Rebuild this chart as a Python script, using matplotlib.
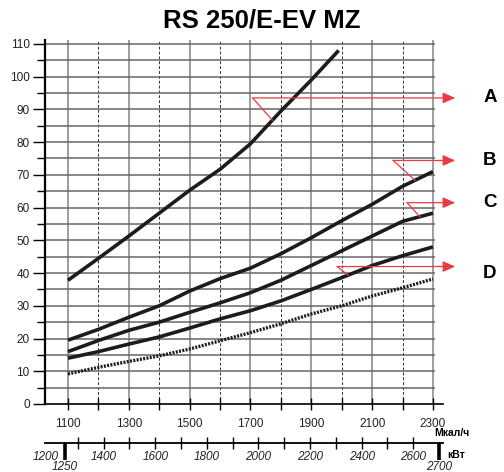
import numpy as np
import matplotlib
matplotlib.use("Agg")
import matplotlib.pyplot as plt
from matplotlib.transforms import blended_transform_factory

plt.rcParams['font.family'] = ['Liberation Sans', 'DejaVu Sans']

title = "RS 250/E-EV MZ"
mcal = [1100, 1200, 1300, 1400, 1500, 1600, 1700, 1800, 1900, 2000, 2100, 2200, 2300]
curve_a_x = [1100, 1200, 1300, 1400, 1500, 1600, 1700, 1800, 1900, 1990]
curve_a = [37.8, 44.5, 51.3, 58.3, 65.3, 71.7, 79.5, 89.5, 99, 108]
curve_b = [19.5, 22.8, 26.5, 30, 34.5, 38.3, 41.5, 45.9, 50.8, 56, 61, 66.5, 71]
curve_c = [16, 19.4, 22.5, 25, 28, 30.9, 34, 37.8, 42.3, 46.8, 51.3, 55.8, 58.3]
curve_d = [14, 16, 18.3, 20.5, 23.2, 26, 28.5, 31.5, 35, 38.6, 42.3, 45.3, 48]
curve_dot = [9.2, 11.2, 13, 14.7, 16.8, 19.3, 21.8, 24.5, 27.5, 30, 33, 35.5, 38.2]

x_major = [1100, 1300, 1500, 1700, 1900, 2100, 2300]
x_dashed = [1200, 1400, 1600, 1800, 2000, 2200]
y_major = list(range(0, 111, 10))
kw_labels = [1200, 1400, 1600, 1800, 2000, 2200, 2400, 2600]
kw_thick = [1250, 2700]
kw_minor = list(range(1300, 2601, 100))

letters = ['A', 'B', 'C', 'D']
arrow_y = [93.5, 74.4, 61.5, 42]
letter_y = [93.5, 74.4, 61.5, 40]
corner_x = [1707, 2169, 2215, 1985]
touch_x = [1772, 2241, 2257, 2021]

W, H = 504, 472
fig = plt.figure(figsize=(W / 100, H / 100), dpi=100)
ax = fig.add_axes([45 / W, 68 / H, 398 / W, 364 / H])
XL, XR = 1024.4, 2333
ax.set_xlim(XL, XR)
ax.set_ylim(0, 111.2)
for s in ['top', 'right']:
    ax.spines[s].set_visible(False)
ax.spines['left'].set_linewidth(1.6)
ax.spines['bottom'].set_linewidth(1.2)

# grid
for x in x_major:
    ax.axvline(x, color='#8c8c8c', lw=1.2, zorder=1)
for x in x_dashed:
    ax.axvline(x, color='#333333', lw=0.7, ls=(0, (3, 2)), zorder=1)
ax.hlines(np.arange(5, 111, 5), XL, 2307, colors='#666666', lw=1.1, zorder=1)

ax.set_xticks(x_major)
ax.set_xticks(x_dashed, minor=True)
ax.tick_params(axis='x', which='both', direction='inout', length=8, width=1,
               labelsize=8.5, labelcolor='#222222', pad=6)
ax.set_yticks(y_major)
ax.set_yticks(np.arange(5, 106, 10), minor=True)
ax.tick_params(axis='y', which='major', direction='out', length=9, width=1,
               labelsize=8.5, labelcolor='#222222', pad=2)
ax.tick_params(axis='y', which='minor', direction='out', length=6, width=1)

# curves
lc = '#1c1c1c'
kw = dict(color=lc, lw=2.6, solid_capstyle='butt', solid_joinstyle='round', zorder=3)
ax.plot(curve_a_x, curve_a, **kw)
ax.plot(mcal, curve_b, **kw)
ax.plot(mcal, curve_c, **kw)
ax.plot(mcal, curve_d, **kw)
ax.plot(mcal, curve_dot, color=lc, lw=2.4, ls=(0, (0.6, 0.4)), zorder=3)

# annotations
red = '#ec3a44'
curves_for = [(curve_a_x, curve_a), (mcal, curve_b), (mcal, curve_c), (mcal, curve_d)]
for i, L in enumerate(letters):
    cx, cy = curves_for[i]
    ty = np.interp(touch_x[i], cx, cy)
    ax.plot([corner_x[i], touch_x[i]], [arrow_y[i], ty], color=red, lw=0.9,
            clip_on=False, zorder=4)
    ax.annotate('', xy=(2373, arrow_y[i]), xytext=(corner_x[i], arrow_y[i]),
                arrowprops=dict(arrowstyle='-|>,head_length=0.75,head_width=0.33',
                                color=red, lw=0.9, shrinkA=0, shrinkB=0),
                annotation_clip=False, zorder=4)
    ax.text(2487, letter_y[i], L, ha='center', va='center', fontsize=13.5,
            fontweight='bold', clip_on=False)

fig.text(0.52, 1 - 21 / H, title, ha='center', va='center', fontsize=18.5,
         fontweight='bold')
fig.text(452 / W, 1 - 433 / H, 'Мкал/ч', ha='center', va='center', fontsize=7.5,
         fontweight='bold')

# kW axis
ax2 = fig.add_axes([45 / W, 1 - 443 / H, 398 / W, 0.0005])
ax2.set_xlim(1172.4, 2715.5)
ax2.set_ylim(0, 1)
ax2.patch.set_visible(False)
for s in ['top', 'right', 'left']:
    ax2.spines[s].set_visible(False)
ax2.spines['bottom'].set_linewidth(1.3)
ax2.set_yticks([])
ax2.set_xticks(kw_thick)
ax2.set_xticklabels([])
ax2.set_xticks(kw_minor, minor=True)
ax2.tick_params(axis='x', which='major', direction='out', length=12, width=2.6)
ax2.tick_params(axis='x', which='minor', direction='inout', length=8, width=1)
tr = blended_transform_factory(ax2.transData, fig.transFigure)
for v in kw_labels:
    xo = v - 24 if v == 1200 else v
    ax2.text(xo, 1 - 457 / H, str(v), transform=tr, ha='center', va='center',
             fontsize=8.5, style='italic', color='#222222')
for v in kw_thick:
    ax2.text(v, 1 - 466.5 / H, str(v), transform=tr, ha='center', va='center',
             fontsize=8.5, style='italic', color='#222222')
fig.text(456 / W, 1 - 455 / H, 'кВт', ha='center', va='center', fontsize=7.5,
         fontweight='bold')

fig.savefig('out.png', dpi=100)
